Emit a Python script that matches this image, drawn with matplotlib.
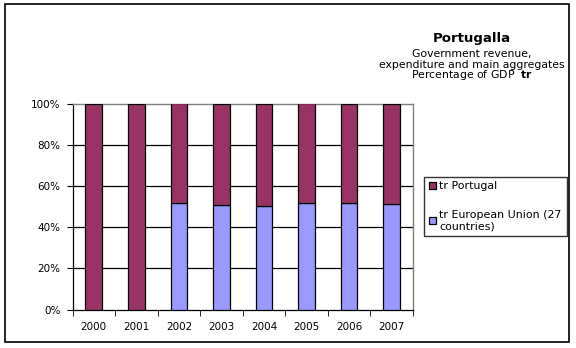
import matplotlib
matplotlib.use("Agg")
import matplotlib.pyplot as plt
import numpy as np
from matplotlib.patches import Rectangle

years = ["2000", "2001", "2002", "2003", "2004", "2005", "2006", "2007"]
portugal = [41.2, 41.0, 42.3, 43.0, 43.9, 42.2, 42.6, 43.5]
eu27 = [0.0, 0.0, 44.9, 44.7, 44.5, 44.8, 45.2, 45.3]
yticks = [0, 20, 40, 60, 80, 100]

pt = np.array(portugal)
eu = np.array(eu27)
tot = pt + eu
eu_pct = eu / tot * 100
pt_pct = pt / tot * 100

W, H = 576, 348
plt.rcParams['font.family'] = ['DejaVu Sans']
fig = plt.figure(figsize=(W / 100, H / 100), dpi=100)

# outer frame
fig.patches.append(Rectangle((5 / W, 1 - 342 / H), 564 / W, 338 / H, transform=fig.transFigure,
                             fill=False, edgecolor='black', linewidth=1.2))

ax = fig.add_axes([72.5 / W, 1 - 309.5 / H, 340.5 / W, 206 / H])
x = np.arange(len(years))
bw = 0.39
ax.bar(x, eu_pct, width=bw, color='#9999FF', edgecolor='black', linewidth=0.9,
       label='tr European Union (27\ncountries)', zorder=3)
ax.bar(x, pt_pct, width=bw, bottom=eu_pct, color='#993366', edgecolor='black', linewidth=0.9,
       label='tr Portugal', zorder=3)

ax.set_xlim(-0.5, len(years) - 0.5)
ax.set_ylim(0, 100)
ax.set_yticks(yticks)
ax.set_yticklabels([f"{v}%" for v in yticks], fontsize=7.5)
ax.set_xticks(x)
ax.set_xticklabels(years, fontsize=7.5)
ax.tick_params(axis='x', length=0, pad=9)
ax.set_xticks(np.arange(-0.5, len(years)), minor=True)
ax.tick_params(axis='x', which='minor', length=4, direction='out', color='black')
ax.tick_params(axis='y', length=4.5, direction='out', pad=4)
for v in yticks[1:-1]:
    ax.axhline(v, color='black', linewidth=0.9, zorder=1)
for s in ['left', 'bottom']:
    ax.spines[s].set_color('black')
    ax.spines[s].set_linewidth(0.9)
for s in ['top', 'right']:
    ax.spines[s].set_color('#808080')
    ax.spines[s].set_linewidth(1.0)

handles, labels = ax.get_legend_handles_labels()
leg = fig.legend(handles[::-1], labels[::-1], loc='upper left',
                 bbox_to_anchor=(424 / W, 1 - 176.5 / H), fontsize=7.9,
                 frameon=True, fancybox=False, edgecolor='black',
                 handlelength=0.65, handleheight=0.65, handletextpad=0.3,
                 labelspacing=1.65, borderpad=0.45, borderaxespad=0)
leg.get_frame().set_linewidth(1.0)

cx = 472
fig.text(cx / W, 1 - 38.5 / H, "Portugalla", ha='center', va='center', fontsize=9.5, fontweight='bold')
fig.text(cx / W, 1 - 53.5 / H, "Government revenue,", ha='center', va='center', fontsize=7.8)
fig.text(cx / W, 1 - 64.5 / H, "expenditure and main aggregates", ha='center', va='center', fontsize=7.8)
fig.text(cx / W, 1 - 75 / H, "Percentage of GDP  $\\mathbf{tr}$", ha='center', va='center', fontsize=7.8)

fig.savefig("out.png", dpi=100)
